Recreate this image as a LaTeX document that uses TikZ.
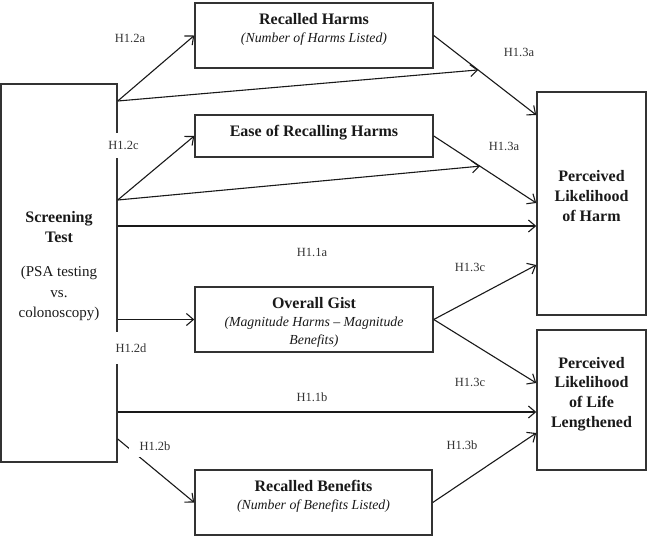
\documentclass[tikz,border=0pt]{standalone}
\usepackage{fontspec}
\setmainfont{Liberation Serif}
\usetikzlibrary{arrows.meta,calc}
\begin{document}
\begin{tikzpicture}[x=1pt,y=-1pt,
 box/.style={draw=black!80,line width=1.5pt,rectangle,inner sep=0pt},
 arr/.style={draw=black!90,line width=1.1pt,-{Straight Barb[length=7pt,width=12pt,line width=1.1pt]}},
 hyp/.style={font=\fontsize{12.5}{15}\selectfont,text=black!80,inner sep=0pt},
 bt/.style={font=\fontsize{16}{19.7}\selectfont\bfseries,align=center,inner sep=0pt,text=black!90},
 rt/.style={font=\fontsize{15}{20.5}\selectfont,align=center,inner sep=0pt,text=black!90},
 it/.style={font=\fontsize{13.8}{18}\selectfont\itshape,align=center,inner sep=0pt,text=black!90}]
\useasboundingbox (0,0) rectangle (648,538);

% boxes
\node[box,minimum width=116pt,minimum height=378pt] (scr) at (59,273) {};
\node[box,minimum width=238pt,minimum height=65pt] (rh) at (314,35.5) {};
\node[box,minimum width=238pt,minimum height=42pt] (ease) at (314,136) {};
\node[box,minimum width=238pt,minimum height=65pt] (gist) at (314,319.5) {};
\node[box,minimum width=237pt,minimum height=65pt] (rb) at (313.5,502.5) {};
\node[box,minimum width=109pt,minimum height=223pt] (ph) at (591.5,203.5) {};
\node[box,minimum width=109pt,minimum height=140pt] (pl) at (591.5,400) {};

% box texts
\node[bt] (scrt) at (59,227) {Screening\\Test};
\node[rt] (scrs) at (59,293.5) {(PSA testing\\vs.\\colonoscopy)};
\node[bt] (rht) at (314,19) {Recalled Harms};
\node[it] (rhs) at (314,39) {(Number of Harms Listed)};
\node[bt] (easet) at (314,133) {Ease of Recalling Harms};
\node[bt] (gistt) at (314,303) {Overall Gist};
\node[it] (gists) at (314,332) {(Magnitude Harms – Magnitude\\Benefits)};
\node[bt] (rbt) at (313.5,486) {Recalled Benefits};
\node[it] (rbs) at (313.5,506) {(Number of Benefits Listed)};
\node[bt] (pht) at (591.5,196) {Perceived\\Likelihood\\of Harm};
\node[bt] (plt) at (591.5,394) {Perceived\\Likelihood\\of Life\\Lengthened};

% connectors
\coordinate (s1) at (scr.east |- 0,101);
\coordinate (s2) at (scr.east |- 0,200);
\coordinate (ph1) at (ph.west |- 0,115);
\coordinate (ph2) at (ph.west |- 0,203);
\draw[arr] (s1) -- (rh.west);
\draw[arr] (rh.east) -- (ph1);
\draw[arr] (s1) -- ($(rh.east)!0.433!(ph1)$);
\draw[arr] (s2) -- (ease.west);
\draw[arr] (ease.east) -- (ph2);
\draw[arr] (s2) -- ($(ease.east)!0.45!(ph2)$);
\draw[arr] (scr.east |- 0,226) -- (ph.west |- 0,226);
\draw[arr] (scr.east |- gist.west) -- (gist.west);
\draw[arr] (gist.east) -- (ph.west |- 0,265);
\draw[arr] (gist.east) -- (pl.west |- 0,383);
\draw[arr] (scr.east |- 0,412) -- (pl.west |- 0,412);
\draw[arr] (scr.east |- 0,439) -- (rb.west);
\draw[arr] (rb.east) -- (pl.west |- 0,433);

% hypothesis labels
\node[hyp] (h12a) at (130,38) {H1.2a};
\node[hyp,fill=white,inner xsep=3pt,inner ysep=8.5pt] (h12c) at (123.5,145.5) {H1.2c};
\node[hyp] (h13a1) at (519,52.5) {H1.3a};
\node[hyp] (h13a2) at (504,146) {H1.3a};
\node[hyp] (h11a) at (312,252) {H1.1a};
\node[hyp] (h13c1) at (470,267) {H1.3c};
\node[hyp,fill=white,inner xsep=3pt,inner ysep=12pt] (h12d) at (131,348) {H1.2d};
\node[hyp] (h11b) at (312,397) {H1.1b};
\node[hyp] (h13c2) at (470,382) {H1.3c};
\node[hyp,fill=white,inner xsep=11pt,inner ysep=7pt] (h12b) at (155,446) {H1.2b};
\node[hyp] (h13b) at (462,445) {H1.3b};
\end{tikzpicture}
\end{document}
